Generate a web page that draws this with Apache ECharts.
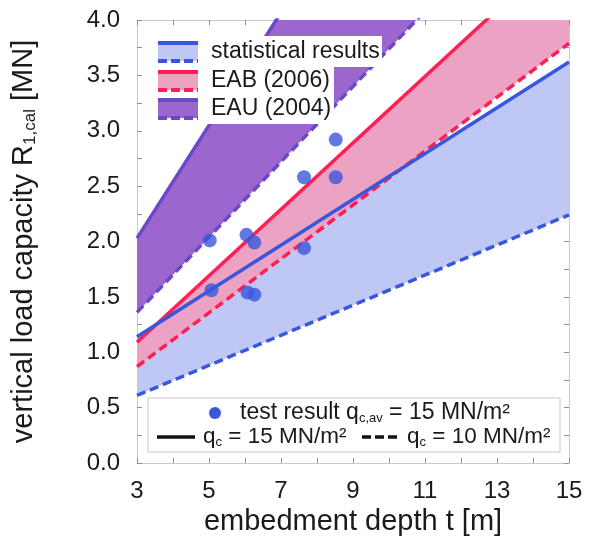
<!DOCTYPE html>
<html>
<head>
<meta charset="utf-8">
<script src="https://cdn.jsdelivr.net/npm/echarts@6/dist/echarts.min.js"></script>
<style>
  html, body { margin: 0; padding: 0; background: #fff; }
  #main { width: 596px; height: 542px; }
</style>
</head>
<body>
<div id="main"></div>
<script>
// embedment depth range of the design lines [m]
const depthEnds = [3, 15];
// vertical load capacity at depth 3 m and 15 m [MN]
const statQc15 = [1.14, 3.62];
const statQc10 = [0.61, 2.24];
const eabQc15 = [1.09, 4.69];
const eabQc10 = [0.87, 3.79];
const eauQc15 = [2.03, 8.14];
const eauQc10 = [1.36, 5.44];
// test results
const testDepth = [5.02, 5.07, 6.04, 6.07, 6.26, 6.26, 7.64, 7.64, 8.52, 8.52];
const testLoad = [2.01, 1.56, 2.06, 1.54, 1.99, 1.52, 2.58, 1.94, 2.58, 2.92];
// axis labels
const xTickLabels = [3, 5, 7, 9, 11, 13, 15];
const yTickLabels = ["0.0", "0.5", "1.0", "1.5", "2.0", "2.5", "3.0", "3.5", "4.0"];

const FONT = "Liberation Sans";
const BLUE = "#3a57db", BLUE_FILL = "#bfc8f4";
const RED = "#ff1f55", RED_FILL = "#eba2c3";
const PURPLE = "#6b48c9", PURPLE_FILL = "#9b66ce";
const FRAME = "#c3c9d8";

function pts(ys) {
  return depthEnds.map((x, i) => [x, ys[i]]);
}

// Sutherland-Hodgman clip of a polygon to the grid rectangle
function clipPoly(poly, r) {
  const edges = [
    (p) => p[0] >= r.x, (p) => p[0] <= r.x + r.width,
    (p) => p[1] >= r.y, (p) => p[1] <= r.y + r.height,
  ];
  const cut = [
    (a, b) => (r.x - a[0]) / (b[0] - a[0]), (a, b) => (r.x + r.width - a[0]) / (b[0] - a[0]),
    (a, b) => (r.y - a[1]) / (b[1] - a[1]), (a, b) => (r.y + r.height - a[1]) / (b[1] - a[1]),
  ];
  let out = poly;
  edges.forEach((inside, k) => {
    const src = out;
    out = [];
    src.forEach((cur, i) => {
      const prev = src[(i + src.length - 1) % src.length];
      const ci = inside(cur), pi = inside(prev);
      if (ci !== pi) {
        const t = cut[k](prev, cur);
        out.push([prev[0] + t * (cur[0] - prev[0]), prev[1] + t * (cur[1] - prev[1])]);
      }
      if (ci) out.push(cur);
    });
  });
  return out;
}

// filled band between the q_c = 10 and q_c = 15 lines
function band(hi, lo, fill, z) {
  return {
    type: "custom", silent: true, z: z,
    data: [[depthEnds[0], lo[0], hi[0], depthEnds[1], lo[1], hi[1]]],
    encode: { x: [0, 3], y: [1, 2, 4, 5] },
    renderItem: (params, api) => {
      const p = [
        api.coord([api.value(0), api.value(1)]),
        api.coord([api.value(3), api.value(4)]),
        api.coord([api.value(3), api.value(5)]),
        api.coord([api.value(0), api.value(2)]),
      ];
      return { type: "polygon", shape: { points: clipPoly(p, params.coordSys) }, style: { fill: fill } };
    },
  };
}

function edge(ys, color, dashed) {
  return {
    type: "line", data: pts(ys), symbol: "none", silent: true, z: 5,
    lineStyle: { color: color, width: 3.5, type: dashed ? [9, 5] : "solid" },
  };
}

const axisCommon = {
  axisLine: { show: true, onZero: false, lineStyle: { color: FRAME, width: 1 } },
  axisTick: { show: true, inside: true, length: 5, lineStyle: { color: "#8a90a2" } },
  minorTick: { show: true, splitNumber: 2, length: 5, lineStyle: { color: "#8a90a2" } },
  splitLine: { show: false },
};

const option = {
  animation: false,
  grid: { left: 137, right: 27, top: 20, bottom: 79 },
  xAxis: [
    Object.assign({
      type: "value", min: 3, max: 15, interval: 2, position: "bottom",
      name: "embedment depth t [m]", nameLocation: "middle", nameGap: 39,
      nameTextStyle: { fontFamily: FONT, fontSize: 29, color: "#1a1a1a" },
      axisLabel: { fontFamily: FONT, fontSize: 24, color: "#1a1a1a", margin: 16,
        formatter: (v) => (xTickLabels.includes(v) ? String(v) : "") },
    }, axisCommon),
    Object.assign({
      type: "value", min: 3, max: 15, interval: 2, position: "top",
      axisLabel: { show: false },
    }, axisCommon),
  ],
  yAxis: [
    Object.assign({
      type: "value", min: 0, max: 4, interval: 0.5, position: "left",
      name: "vertical load capacity R{sub|1,cal} [MN]", nameLocation: "middle", nameGap: 98,
      nameTextStyle: { fontFamily: FONT, fontSize: 29, color: "#1a1a1a",
        rich: { sub: { fontFamily: FONT, fontSize: 17, color: "#1a1a1a", verticalAlign: "bottom", padding: [13, 0, 0, 0] } } },
      axisLabel: { fontFamily: FONT, fontSize: 24, color: "#1a1a1a", margin: 17,
        formatter: (v) => yTickLabels[Math.round(v * 2)] || "" },
    }, axisCommon),
    Object.assign({
      type: "value", min: 0, max: 4, interval: 0.5, position: "right",
      axisLabel: { show: false },
    }, axisCommon),
  ],
  series: [
    band(statQc15, statQc10, BLUE_FILL, 1),
    band(eabQc15, eabQc10, RED_FILL, 2),
    band(eauQc15, eauQc10, PURPLE_FILL, 3),
    edge(statQc10, BLUE, true),
    edge(eabQc10, RED, true),
    edge(eauQc10, PURPLE, true),
    edge(eauQc15, PURPLE, false),
    edge(eabQc15, RED, false),
    edge(statQc15, BLUE, false),
    {
      type: "scatter", name: "test result",
      data: testDepth.map((x, i) => [x, testLoad[i]]),
      symbol: "circle", symbolSize: 14, itemStyle: { color: BLUE }, z: 6,
    },
  ],
  graphic: [],
};

const TOP = 100;
// legend of the design bands (upper left)
function swatch(y, line, fill) {
  return [
    { type: "rect", z: TOP, shape: { x: 158, y: y - 9, width: 40, height: 18 }, style: { fill: fill } },
    { type: "line", z: TOP, shape: { x1: 158, y1: y - 9, x2: 198, y2: y - 9 }, style: { stroke: line, lineWidth: 4 } },
    { type: "line", z: TOP, shape: { x1: 158, y1: y + 9, x2: 198, y2: y + 9 }, style: { stroke: line, lineWidth: 4, lineDash: [9, 4] } },
  ];
}
const legendRows = [
  { y: 52, label: "statistical results", line: BLUE, fill: BLUE_FILL },
  { y: 81, label: "EAB (2006)", line: RED, fill: RED_FILL },
  { y: 109, label: "EAU (2004)", line: PURPLE, fill: PURPLE_FILL },
];
const topLegend = [
  { type: "rect", z: TOP, shape: { x: 146, y: 36, width: 236, height: 31 }, style: { fill: "#fff" } },
  { type: "rect", z: TOP, shape: { x: 146, y: 36, width: 188, height: 88 }, style: { fill: "#fff" } },
];
legendRows.forEach((r) => {
  topLegend.push(...swatch(r.y, r.line, r.fill));
  topLegend.push({ type: "text", z: TOP, x: 211, y: r.y,
    style: { text: r.label, fontFamily: FONT, fontSize: 23, fill: "#1a1a1a", verticalAlign: "middle" } });
});
option.graphic.push(...topLegend);

// legend of the symbols (bottom)
const subRich = {
  sub: { fontFamily: FONT, fontSize: 13, fill: "#1a1a1a", verticalAlign: "bottom", padding: [10, 0, 0, 0] },
};
option.graphic.push(
  { type: "rect", z: TOP, shape: { x: 148, y: 398, width: 412, height: 54 }, style: { fill: "#fff", stroke: FRAME, lineWidth: 1 } },
  { type: "circle", z: TOP, shape: { cx: 215, cy: 413, r: 6 }, style: { fill: BLUE } },
  { type: "text", z: TOP, x: 240, y: 413, style: { text: "test result q{sub|c,av} = 15 MN/m²", rich: subRich,
    fontFamily: FONT, fontSize: 23, fill: "#1a1a1a", verticalAlign: "middle" } },
  { type: "line", z: TOP, shape: { x1: 157, y1: 437, x2: 195, y2: 437 }, style: { stroke: "#111", lineWidth: 3.5 } },
  { type: "text", z: TOP, x: 203, y: 437, style: { text: "q{sub|c} = 15 MN/m²", rich: subRich,
    fontFamily: FONT, fontSize: 22.5, fill: "#1a1a1a", verticalAlign: "middle" } },
  { type: "line", z: TOP, shape: { x1: 362, y1: 437, x2: 400, y2: 437 }, style: { stroke: "#111", lineWidth: 3.5, lineDash: [9, 4] } },
  { type: "text", z: TOP, x: 407, y: 437, style: { text: "q{sub|c} = 10 MN/m²", rich: subRich,
    fontFamily: FONT, fontSize: 22.5, fill: "#1a1a1a", verticalAlign: "middle" } }
);

addEventListener("load", () => {
  const chart = echarts.init(document.getElementById("main"));
  chart.setOption(option);
});
</script>
</body>
</html>
